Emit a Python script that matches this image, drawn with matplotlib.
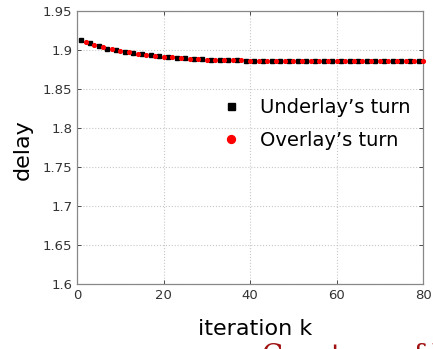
import matplotlib
matplotlib.use('Agg')
import matplotlib.pyplot as plt

# delay per iteration k
k_values = list(range(1, 81))
delay = [1.913, 1.911, 1.909, 1.907, 1.905, 1.9035, 1.902, 1.901, 1.900, 1.899,
         1.898, 1.897, 1.8962, 1.8955, 1.8948, 1.8941, 1.8935, 1.8929, 1.8923, 1.8918,
         1.8913, 1.8908, 1.8903, 1.8899, 1.8895, 1.8891, 1.8888, 1.8885, 1.8882, 1.888,
         1.8878, 1.8876, 1.8874, 1.8872, 1.8871, 1.887, 1.8869, 1.8868, 1.8867, 1.8866,
         1.8865, 1.8864, 1.8864, 1.8863, 1.8863, 1.8862, 1.8862, 1.8862, 1.8861, 1.8861,
         1.8861, 1.8861, 1.886, 1.886, 1.886, 1.886, 1.886, 1.886, 1.886, 1.886,
         1.886, 1.886, 1.886, 1.886, 1.886, 1.886, 1.886, 1.886, 1.886, 1.886,
         1.886, 1.886, 1.886, 1.886, 1.886, 1.886, 1.886, 1.886, 1.886, 1.886]

x_ticks = [0, 20, 40, 60, 80]
y_ticks = [1.6, 1.65, 1.7, 1.75, 1.8, 1.85, 1.9, 1.95]
y_tick_labels = ['1.6', '1.65', '1.7', '1.75', '1.8', '1.85', '1.9', '1.95']

# underlay plays on odd k, overlay on even k
under_k = k_values[0::2]
under_d = delay[0::2]
over_k = k_values[1::2]
over_d = delay[1::2]

fig = plt.figure(figsize=(4.33, 3.49), dpi=100)
ax = fig.add_axes([0.178, 0.186, 0.799, 0.782])

h1, = ax.plot(under_k, under_d, 's', color='black', markersize=2.4, linestyle='none',
              label='Underlay\u2019s turn', clip_on=False, zorder=3)
h2, = ax.plot(over_k, over_d, 'o', color='red', markersize=2.7, linestyle='none',
              label='Overlay\u2019s turn', clip_on=False, zorder=3)

ax.set_xlim(0, 80)
ax.set_ylim(1.6, 1.95)
ax.set_xticks(x_ticks)
ax.set_yticks(y_ticks)
ax.set_yticklabels(y_tick_labels)
ax.grid(True, linestyle=':', color='#c8c8c8', linewidth=0.8)
ax.tick_params(direction='in', top=True, right=True, labelsize=9.5,
               colors='#333333', length=3, width=0.6)
for s in ax.spines.values():
    s.set_color('#888888')
    s.set_linewidth(0.9)

fig.text(23 / 433, 0.57, 'delay', rotation=90, fontsize=16,
         ha='center', va='center', color='black')
fig.text(0.589, 0.04, 'iteration k', fontsize=16, ha='center',
         va='baseline', color='black')

leg = ax.legend(handles=[h1, h2], loc='upper left', bbox_to_anchor=(0.371, 0.745),
                frameon=False, fontsize=14, labelspacing=0.7, handletextpad=1.1,
                markerscale=2.1, handlelength=0.8)

fig.text(0.605, -0.06, 'Courtesy of Y', color='#a01010', fontsize=20,
         family='DejaVu Serif', va='bottom')

fig.savefig('out.png', dpi=100)
